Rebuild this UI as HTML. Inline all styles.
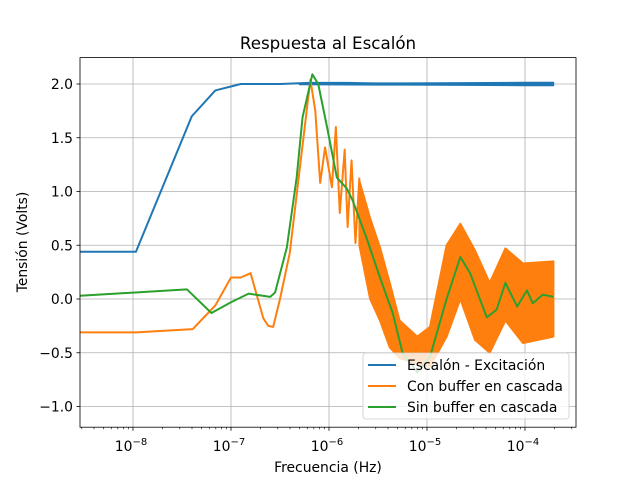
<!DOCTYPE html>
<html><head><meta charset="utf-8"><style>
body{margin:0;background:#fff}
svg text{font-family:"DejaVu Sans","Liberation Sans",sans-serif}
</style></head><body>
<svg id="c" width="640" height="480" xmlns="http://www.w3.org/2000/svg"></svg>
<script>
// ---- data (log10 frequency, volts) ----
const blueX=[-8.54,-7.97,-7.40,-7.16,-6.90,-6.5,-6.2,-5.8,-5.3,-4.8,-4.2,-3.71];
const blueY=[0.44,0.44,1.70,1.94,2.00,2.00,2.01,2.01,2.00,2.00,2.00,2.00];
const blueBandX=[-6.3,-5.8,-5.2,-4.6,-4.0,-3.71];
const blueBandW=[0.004,0.006,0.008,0.01,0.013,0.014];
const orangeX=[-8.54,-7.97,-7.39,-7.16,-7.00,-6.90,-6.80,-6.67,-6.62,-6.57,-6.50,-6.40,-6.30,-6.19,-6.14,-6.09,-6.04,-5.97,-5.93,-5.89,-5.84,-5.81,-5.77,-5.73,-5.69];
const orangeY=[-0.31,-0.31,-0.28,-0.06,0.20,0.20,0.24,-0.18,-0.25,-0.26,0.00,0.43,1.20,2.04,1.75,1.08,1.41,1.04,1.60,0.80,1.39,0.67,1.29,0.52,1.13];
const bandX=[-5.69,-5.58,-5.48,-5.38,-5.28,-5.10,-4.97,-4.80,-4.66,-4.51,-4.36,-4.20,-4.02,-3.71];
const bandHi=[1.10,0.75,0.48,0.15,-0.20,-0.35,-0.26,0.50,0.70,0.45,0.15,0.47,0.33,0.35];
const bandLo=[0.50,0.00,-0.20,-0.45,-0.55,-0.60,-0.63,-0.35,0.00,-0.38,-0.50,-0.20,-0.41,-0.35];
const greenX=[-8.54,-7.45,-7.20,-7.00,-6.82,-6.60,-6.55,-6.43,-6.33,-6.27,-6.17,-6.11,-6.02,-5.92,-5.82,-5.76,-5.61,-5.48,-5.35,-5.25,-5.10,-4.97,-4.80,-4.66,-4.56,-4.39,-4.29,-4.20,-4.08,-3.98,-3.92,-3.82,-3.71];
const greenY=[0.03,0.09,-0.13,-0.03,0.05,0.02,0.06,0.48,1.13,1.69,2.09,2.00,1.60,1.13,1.03,0.92,0.55,0.20,-0.13,-0.50,-0.68,-0.54,0.00,0.39,0.24,-0.17,-0.10,0.15,-0.07,0.08,-0.04,0.04,0.02];
const yTicks=[-1.0,-0.5,0.0,0.5,1.0,1.5,2.0];
const xTicks=[-8,-7,-6,-5,-4];
// ---- axes ----
const L=80,R=576,T=57.6,B=427.2;
const sx=v=>133+(v+8)*98;
const sy=v=>299-v*107.5;
const NS="http://www.w3.org/2000/svg";
const svg=document.getElementById('c');
function mk(tag,at,parent){const e=document.createElementNS(NS,tag);for(const k in at)e.setAttribute(k,at[k]);(parent||svg).appendChild(e);return e;}
const clip=mk('clipPath',{id:'cp'});mk('rect',{x:L,y:T,width:R-L,height:B-T},clip);
xTicks.forEach(t=>{const g=mk('line',{x1:sx(t),x2:sx(t),y1:T,y2:B,stroke:'#b0b0b0','stroke-width':0.8});

});
yTicks.forEach(t=>{const g=mk('line',{x1:L,x2:R,y1:sy(t),y2:sy(t),stroke:'#b0b0b0','stroke-width':0.8});

});
const pg=mk('g',{'clip-path':'url(#cp)'});
function line(xs,ys,col,name){const p=mk('polyline',{points:xs.map((x,i)=>sx(x)+','+sy(ys[i])).join(' '),fill:'none',stroke:col,'stroke-width':2,'stroke-linejoin':'round'},pg);

}
function band(xs,hi,lo,col,name,sw){const pts=xs.map((x,i)=>sx(x)+','+sy(hi[i])).concat(xs.map((x,i)=>sx(x)+','+sy(lo[i])).reverse());
const p=mk('polygon',{points:pts.join(' '),fill:col,stroke:col,'stroke-width':sw,'stroke-linejoin':'round'},pg);

}
line(blueX,blueY,'#1f77b4','escalon-series');
band(blueBandX,blueBandX.map((x,i)=>2.0+blueBandW[i]),blueBandX.map((x,i)=>2.0-blueBandW[i]),'#1f77b4','escalon-noise-band',1.6);
line(orangeX,orangeY,'#ff7f0e','con-buffer-series');
band(bandX,bandHi,bandLo,'#ff7f0e','con-buffer-oscillation-band',2);
line(greenX,greenY,'#2ca02c','sin-buffer-series');
const fr=mk('rect',{x:L,y:T,width:R-L,height:B-T,fill:'none',stroke:'#000','stroke-width':0.8});


yTicks.forEach(t=>{mk('line',{x1:L-3.5,x2:L,y1:sy(t),y2:sy(t),stroke:'#000','stroke-width':0.8});
const tx=mk('text',{x:L-7,y:sy(t)+5,'text-anchor':'end','font-size':13.9});tx.textContent=t.toFixed(1).replace('-','\u2212');

});
for(let d=-9;d<=-4;d++){for(let m=2;m<=9;m++){const v=d+Math.log10(m);const x=sx(v);if(x>L&&x<R)mk('line',{x1:x,x2:x,y1:B,y2:B+2,stroke:'#000','stroke-width':0.6});}}
xTicks.forEach(t=>{mk('line',{x1:sx(t),x2:sx(t),y1:B,y2:B+3.5,stroke:'#000','stroke-width':0.8});
const tx=mk('text',{x:sx(t)-2,y:B+24,'text-anchor':'middle','font-size':13.9});tx.textContent='10';
const s=mk('tspan',{dy:-6,'font-size':10},tx);s.textContent='\u2212'+(-t);

});
function txt(s,x,y,sz,name,extra){const t=mk('text',Object.assign({x:x,y:y,'text-anchor':'middle','font-size':sz},extra||{}));t.textContent=s;

return t;}
txt('Respuesta al Escalón',328,49,16.7,'chart-title');
txt('Frecuencia (Hz)',328,472,13.9,'x-axis-title');
txt('Tensión (Volts)',27,242,13.9,'y-axis-title',{transform:'rotate(-90 27 242)'});
const lg=mk('g',{});


mk('rect',{x:363,y:353,width:206,height:66,rx:3,fill:'#fff','fill-opacity':0.8,stroke:'#ccc','stroke-width':0.8},lg);
[['Escalón - Excitación','#1f77b4',365],['Con buffer en cascada','#ff7f0e',386],['Sin buffer en cascada','#2ca02c',407]].forEach(e=>{
const g=mk('g',{},lg);


mk('line',{x1:368,x2:396,y1:e[2],y2:e[2],stroke:e[1],'stroke-width':2},g);
const t=mk('text',{x:407,y:e[2]+5,'font-size':13.9},g);t.textContent=e[0];});
</script>
</body></html>
